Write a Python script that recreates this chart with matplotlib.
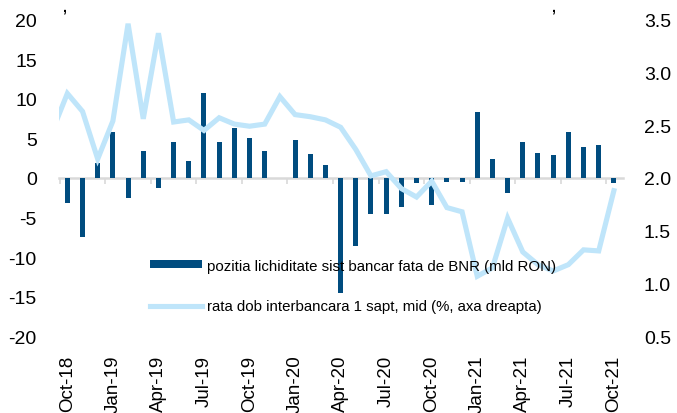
import matplotlib
matplotlib.use("Agg")
import matplotlib.pyplot as plt
import numpy as np

plt.rcParams['font.family'] = ['Liberation Sans', 'DejaVu Sans']
plt.rcParams['axes.unicode_minus'] = False

months = ["Oct-18", "Nov-18", "Dec-18", "Jan-19", "Feb-19", "Mar-19", "Apr-19", "May-19", "Jun-19",
          "Jul-19", "Aug-19", "Sep-19", "Oct-19", "Nov-19", "Dec-19", "Jan-20", "Feb-20", "Mar-20",
          "Apr-20", "May-20", "Jun-20", "Jul-20", "Aug-20", "Sep-20", "Oct-20", "Nov-20", "Dec-20",
          "Jan-21", "Feb-21", "Mar-21", "Apr-21", "May-21", "Jun-21", "Jul-21", "Aug-21", "Sep-21",
          "Oct-21"]

liquidity = [-3.2, -7.4, 1.9, 5.85, -2.5, 3.4, -1.2, 4.6, 2.15,
             10.7, 4.6, 6.35, 5.05, 3.35, 0.0, 4.85, 3.05, 1.7,
             -14.5, -8.6, -4.6, -4.5, -3.6, -0.6, -3.4, -0.55, -0.55,
             8.3, 2.4, -1.95, 4.6, 3.1, 2.9, 5.85, 3.95, 4.15,
             -0.65]

# rate series starts one month earlier (Sep-18), partially clipped at the left edge
rate_months = ["Sep-18"] + months
rate = [2.44, 2.80, 2.63, 2.18, 2.54, 3.46, 2.56, 3.37, 2.53, 2.55,
        2.45, 2.57, 2.51, 2.49, 2.51, 2.77, 2.60, 2.58, 2.55,
        2.48, 2.27, 2.02, 2.06, 1.90, 1.82, 1.97, 1.72, 1.68,
        1.07, 1.15, 1.62, 1.30, 1.18, 1.12, 1.18, 1.32, 1.31,
        1.88]

bar_label = "pozitia lichiditate sist bancar fata de BNR (mld RON)"
line_label = "rata dob interbancara 1 sapt, mid (%, axa dreapta)"

left_ticks = [20, 15, 10, 5, 0, -5, -10, -15, -20]
right_ticks = [3.5, 3.0, 2.5, 2.0, 1.5, 1.0, 0.5]

bar_color = "#004C7F"
line_color = "#BFE5FA"
axis_gray = "#D9D9D9"

fig = plt.figure(figsize=(6.77, 4.14), dpi=100)
ax = fig.add_axes([59 / 677, 1 - 337.5 / 414, (623 - 59) / 677, (337.5 - 20.5) / 414])

x = np.arange(len(months))
xr = np.arange(len(rate_months)) - 1

bars = ax.bar(x, liquidity, width=0.33, color=bar_color, zorder=2, label=bar_label)
ax.set_ylim(-20, 20)
ax.set_yticks(left_ticks)
ax.set_yticklabels([str(t) for t in left_ticks])
ax.set_xlim(-0.55, 36.6)
ax.tick_params(axis='y', length=0, pad=16, labelsize=14)
for s in ax.spines.values():
    s.set_visible(False)

# category axis crossing at zero, tick marks between categories every quarter
ax.spines['bottom'].set_visible(True)
ax.spines['bottom'].set_position(('data', 0))
ax.spines['bottom'].set_color(axis_gray)
ax.spines['bottom'].set_linewidth(1.8)
ax.spines['bottom'].set_zorder(1)
ax.set_xticks(np.arange(-0.5, 36, 3))
ax.tick_params(axis='x', direction='out', length=4, width=1.2, color=axis_gray,
               labelbottom=False)

# month labels at the bottom of the plot area
lab = ax.secondary_xaxis('bottom')
lab.spines['bottom'].set_visible(False)
lab.set_xticks(x[::3])
lab.set_xticklabels(months[::3], rotation=90)
lab.tick_params(axis='x', length=0, pad=13, labelsize=13.5)

ax2 = ax.twinx()
line, = ax2.plot(xr, rate, color=line_color, lw=3.7, solid_joinstyle='miter', label=line_label, zorder=3)
ax2.set_ylim(0.5, 3.5)
ax2.set_yticks(right_ticks)
ax2.set_yticklabels([f"{t:.1f}" for t in right_ticks])
ax2.tick_params(axis='y', length=0, pad=15, labelsize=14)
for s in ax2.spines.values():
    s.set_visible(False)
ax2.set_xlim(-0.55, 36.6)

leg = ax2.legend([bars, line], [bar_label, line_label], loc='center left',
                 bbox_to_anchor=(150 / 677, 1 - 287 / 414), bbox_transform=fig.transFigure,
                 frameon=False, fontsize=10.8, handlelength=3.47, handletextpad=0.33,
                 borderpad=0, borderaxespad=0, labelspacing=1.78, handleheight=0.45)

# remnants of a cropped title above the chart
fig.text(64 / 677, 1.0, ",", fontsize=10, ha='center', va='top', fontweight='bold')
fig.text(553 / 677, 1.0, ",", fontsize=10, ha='center', va='top', fontweight='bold')

fig.savefig("out.png", dpi=100)
